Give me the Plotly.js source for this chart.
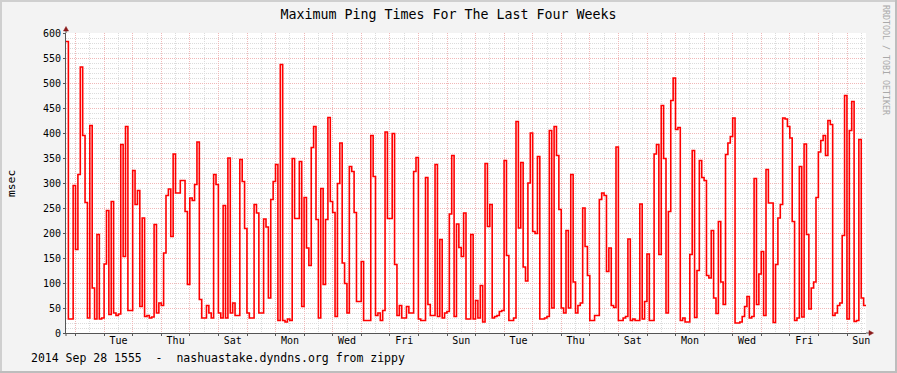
<!DOCTYPE html>
<html><head><meta charset="utf-8">
<script src="https://cdn.plot.ly/plotly-3.0.1.min.js"></script>
<style>
html,body{margin:0;padding:0;background:#f3f3f3;}
#wrap{position:relative;width:897px;height:373px;overflow:hidden;}
#chart{position:absolute;left:0;top:0;width:897px;height:373px;}
.b{position:absolute;}
</style></head><body>
<div id="wrap"><div id="chart"></div>
<div class="b" style="left:0;top:0;width:897px;height:2px;background:#cfcfcf"></div>
<div class="b" style="left:0;top:0;width:2px;height:373px;background:#cfcfcf"></div>
<div class="b" style="left:0;top:371px;width:897px;height:2px;background:#bdbdbd"></div>
<div class="b" style="left:895px;top:0;width:2px;height:373px;background:#bdbdbd"></div>
</div>
<script>
// Maximum ping time (msec), one value per 2-hour step, starting 2014-08-31 15:55
const pingWeek1 = [583,28,28,295,167,317,532,395,261,30,
 415,90,28,197,28,30,138,245,37,263,
 40,35,38,377,153,413,45,45,325,257,
 285,53,230,33,35,30,32,217,40,60,
 55,160,275,288,193,358,280,280,305,305,
 243,97,270,265,297,382,67,30,30,55,
 40,30,317,297,40,30,255,30,350,40,
 60,35,35,347,303,209,40,30,30,257,
 240,40,40,228];
const pingWeek2 = [212,70,267,303,337,25,
 537,25,22,28,25,349,229,229,343,53,
 271,170,135,371,413,227,30,289,97,227,
 431,263,241,33,299,380,140,99,40,333,
 323,241,63,63,143,25,25,25,395,313,
 35,40,25,45,402,229,229,399,137,35,
 55,30,30,53,40,40,323,351,28,25,
 25,311,57,35,35,337,33,187,30,40,
 43,238,355,33,218,171,153,240];
const pingWeek3 = [28,28,
 197,28,65,30,95,22,339,213,257,30,
 33,35,43,45,345,155,25,25,30,423,
 210,341,132,104,300,400,203,199,353,28,
 28,30,33,405,50,413,355,247,50,40,
 205,50,317,102,40,55,60,250,173,115,
 25,25,35,35,267,280,275,123,170,55,
 51,372,25,25,30,33,188,25,28,25,
 25,258,28,63,158,25,25,358,377,157,
 455,349];
const pingWeek4 = [40,243,465,510,407,411,25,30,
 22,22,157,365,31,125,345,311,305,115,
 110,205,70,39,223,102,57,357,380,393,
 430,20,20,22,33,53,73,30,33,309,
 57,118,163,35,327,260,260,21,137,230,
 257,430,428,413,390,223,25,30,333,32,
 378,197,48,90,102,271,362,385,395,355,
 425,417,35,40,55,60,195,475,28,405,
 463,23,25,387,70,55];

const labelDates = ['2014-09-02 12:00','2014-09-04 12:00','2014-09-06 12:00','2014-09-08 12:00',
 '2014-09-10 12:00','2014-09-12 12:00','2014-09-14 12:00','2014-09-16 12:00','2014-09-18 12:00',
 '2014-09-20 12:00','2014-09-22 12:00','2014-09-24 12:00','2014-09-26 12:00','2014-09-28 12:00'];
const labelNames = ['Tue','Thu','Sat','Mon','Wed','Fri','Sun','Tue','Thu','Sat','Mon','Wed','Fri','Sun'];

const startMs = Date.UTC(2014,7,31,15,55);
const stepMs = 2*3600*1000;
const fmt = ms => new Date(ms).toISOString().replace('T',' ').slice(0,19);

const vals = [].concat(pingWeek1, pingWeek2, pingWeek3, pingWeek4);
const xs = vals.map((_,i)=>fmt(startMs + i*stepMs));
const endStr = fmt(startMs + vals.length*stepMs);
const xsLine = xs.concat([endStr]);
const ysLine = vals.concat([vals[vals.length-1]]);
const xRange = [fmt(startMs), endStr];

const FONT = 'DejaVu Sans Mono, monospace';
const MGRID = '#f0b8b8';
const GRID = '#dcdcdc';
const AXC = '#555555';
const ARROW = '#8a1a1a';

const traces = [
 {x: xsLine, y: ysLine, type:'scatter', mode:'lines', line:{color:'#ff0000', width:1.6, shape:'hv'}, hoverinfo:'skip', showlegend:false},
 {x: labelDates, y: labelDates.map(()=>null), xaxis:'x2', yaxis:'y', type:'scatter', mode:'lines', hoverinfo:'skip', showlegend:false}
];

const pw = 800, ph = 300;
const layout = {
 width: 897, height: 373, autosize:false,
 margin:{l:66, r:31, t:33, b:40, pad:0},
 paper_bgcolor:'#f3f3f3', plot_bgcolor:'#ffffff',
 font:{family:FONT, size:10, color:'#000'},
 showlegend:false,
 title:{text:'Maximum Ping Times For The Last Four Weeks', font:{family:FONT, size:13.3, color:'#000'},
   x:0.5, xref:'container', xanchor:'center', y:1-14/373, yref:'container', yanchor:'middle'},
 xaxis:{type:'date', range:xRange, showgrid:true, gridcolor:MGRID, griddash:'1px,1px', gridwidth:1,
   tick0:'2014-09-01', dtick:86400000, ticks:'outside', ticklen:2, tickcolor:AXC, showticklabels:false,
   showline:true, linecolor:AXC, linewidth:1, zeroline:false, fixedrange:true,
   minor:{tick0:'2014-09-01', dtick:43200000, showgrid:true, gridcolor:GRID, griddash:'1px,1px', gridwidth:1, ticks:''}},
 xaxis2:{type:'date', overlaying:'x', anchor:'y', side:'bottom', range:xRange, tickmode:'array',
   tickvals:labelDates, ticktext:labelNames, showgrid:false, ticks:'', showline:false, zeroline:false,
   tickfont:{family:FONT, size:10, color:'#000'}, fixedrange:true},
 yaxis:{range:[0,600], tick0:0, dtick:50, showgrid:true, gridcolor:MGRID, griddash:'1px,1px', gridwidth:1,
   ticks:'outside', ticklen:2, tickcolor:AXC, tickfont:{family:FONT, size:10, color:'#000'},
   showline:true, linecolor:AXC, linewidth:1, zeroline:false, fixedrange:true,
   minor:{dtick:10, showgrid:true, gridcolor:GRID, griddash:'1px,1px', gridwidth:1, ticks:''}},
 annotations:[
  {xref:'paper', yref:'paper', x:-55/pw, y:0.5, text:'msec', textangle:-90, showarrow:false,
   xanchor:'center', yanchor:'middle', font:{family:FONT, size:11.3, color:'#000'}},
  {xref:'paper', yref:'paper', x:-37/pw, y:-25/ph, text:'2014 Sep 28 1555  -  nashuastake.dyndns.org from zippy',
   showarrow:false, xanchor:'left', yanchor:'middle', font:{family:FONT, size:11.5, color:'#000'}},
  {xref:'paper', yref:'paper', x:820/pw, y:(333-60)/ph, text:'RRDTOOL / TOBI OETIKER', textangle:90, showarrow:false,
   xanchor:'center', yanchor:'middle', font:{family:FONT, size:8.3, color:'#a9a9a9'}}
 ],
 shapes:[
  {type:'line', xref:'paper', yref:'paper', x0:0, x1:0, y0:0, y1:-3/ph, line:{color:AXC, width:1}},
  {type:'line', xref:'paper', yref:'paper', x0:0, x1:0, y0:1, y1:1+3/ph, line:{color:AXC, width:1}},
  {type:'path', xref:'paper', yref:'paper', fillcolor:ARROW, line:{color:ARROW, width:0.5},
   path:`M ${-2.5/pw} ${1+2/ph} L ${2.5/pw} ${1+2/ph} L 0 ${1+6.5/ph} Z`},
  {type:'line', xref:'paper', yref:'paper', x0:1, x1:1+3/pw, y0:0, y1:0, line:{color:AXC, width:1}},
  {type:'path', xref:'paper', yref:'paper', fillcolor:ARROW, line:{color:ARROW, width:0.5},
   path:`M ${1+3/pw} ${2.5/ph} L ${1+3/pw} ${-2.5/ph} L ${1+7.5/pw} 0 Z`}
 ]
};

Plotly.newPlot('chart', traces, layout, {staticPlot:true, displayModeBar:false});
</script>
</body></html>
